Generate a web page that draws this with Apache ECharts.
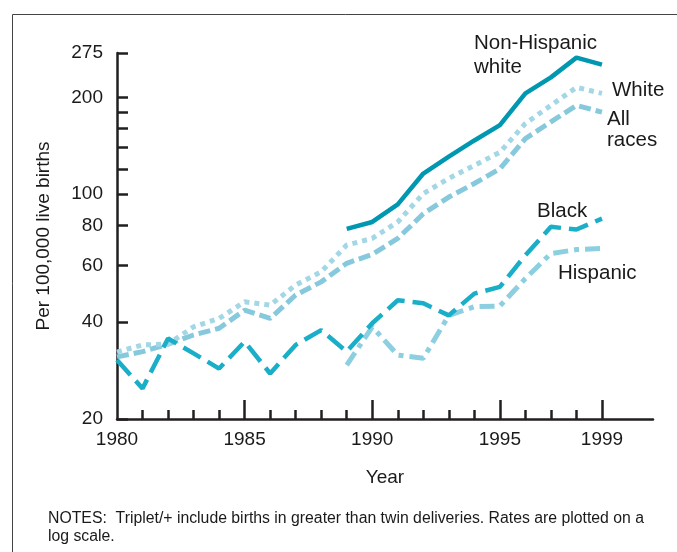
<!DOCTYPE html>
<html>
<head>
<meta charset="utf-8">
<script src="https://cdn.jsdelivr.net/npm/echarts@6/dist/echarts.min.js"></script>
<style>
html,body{margin:0;padding:0;background:#fff;}
#c{width:677px;height:552px;}
</style>
</head>
<body>
<div id="c"></div>
<script>
const years = [1980,1981,1982,1983,1984,1985,1986,1987,1988,1989,1990,1991,1992,1993,1994,1995,1996,1997,1998,1999];
const nonHispanicWhite = [null,null,null,null,null,null,null,null,null,78,82,93,116,131,147,164,206,231,266,253];
const white = [32.3,34.0,34.2,38.7,41.1,46.3,45.2,52.2,57.4,69.5,72.9,82,100.5,112,123,135,166,189,215,206];
const allRaces = [31.2,32.4,34.2,36.5,38.3,43.6,41.1,48.6,53.4,61,65,72.9,87,98,108,120,149,168,189,180];
const black = [30.5,24.9,35.6,32,28.7,34.8,27.7,34,37.8,32.4,39.7,46.8,45.8,42,49.1,51.5,64.6,79.2,77.7,84];
const hispanic = [null,null,null,null,null,null,null,null,null,29.4,38.7,31.6,30.9,42,44.7,44.9,54.7,65.4,67.3,67.8];
const yLabelValues = [20,40,60,80,100,200,275];
const yTickValues = [20,40,60,80,100,120,140,160,180,200,275];
const xLabelValues = [1980,1985,1990,1995,1999];
const xMajorTicks = [1985,1990,1995,1999];
const xMinorTicks = [1981,1982,1983,1984,1986,1987,1988,1989,1991,1992,1993,1994,1996,1997,1998];

const pairs = arr => years.map((y,i)=>[y,arr[i]]).filter(p=>p[1]!=null);
const axisColor = '#231f20';
const font = 'Liberation Sans, Arial, Helvetica, sans-serif';
const lab = (text, x, y) => ({type:'text', x:x, y:y, style:{text:text, font:'20.5px '+font, fill:'#1a1a1a', verticalAlign:'middle'}});

const chart = echarts.init(document.getElementById('c'), null, {renderer:'canvas'});
chart.setOption({
  animation:false,
  backgroundColor:'#fff',
  grid:{left:117, right:24, top:53, bottom:133, containLabel:false},
  xAxis:[{
    type:'value', min:1980, max:2001,
    axisLine:{show:true, lineStyle:{color:axisColor, width:2.5}},
    axisTick:{show:true, inside:true, length:9, lineStyle:{color:axisColor, width:2.5}, customValues:xMinorTicks},
    axisLabel:{show:false},
    splitLine:{show:false}
  },{
    type:'value', min:1980, max:2001, position:'bottom',
    axisLine:{show:false},
    axisTick:{show:true, inside:true, length:19, lineStyle:{color:axisColor, width:2.5}, customValues:xMajorTicks},
    axisLabel:{show:true, customValues:xLabelValues, formatter:v=>String(v), color:'#1a1a1a', fontSize:19, fontFamily:font, margin:11},
    splitLine:{show:false},
    name:'Year', nameLocation:'middle', nameGap:49,
    nameTextStyle:{color:'#1a1a1a', fontSize:19, fontFamily:font}
  }],
  yAxis:{
    type:'log', logBase:10, min:20, max:275,
    axisLine:{show:true, lineStyle:{color:axisColor, width:2.5}},
    axisTick:{show:true, inside:true, length:11, lineStyle:{color:axisColor, width:2.5}, customValues:yTickValues},
    axisLabel:{show:true, customValues:yLabelValues, formatter:v=>String(v), color:'#1a1a1a', fontSize:19, fontFamily:font, margin:14},
    splitLine:{show:false}, minorTick:{show:false},
    name:'Per 100,000 live births', nameLocation:'middle', nameGap:64, nameRotate:90,
    nameTextStyle:{color:'#1a1a1a', fontSize:19, fontFamily:font}
  },
  series:[
    {name:'All races', type:'line', xAxisIndex:0, data:pairs(allRaces), symbol:'none',
     lineStyle:{color:'#86c9dc', width:5, type:[12,5]}},
    {name:'White', type:'line', xAxisIndex:0, data:pairs(white), symbol:'none',
     lineStyle:{color:'#a4d7e5', width:5, type:[5,5]}},
    {name:'Hispanic', type:'line', xAxisIndex:0, data:pairs(hispanic), symbol:'none',
     lineStyle:{color:'#8ccfe0', width:5, type:[15,6,5,6]}},
    {name:'Black', type:'line', xAxisIndex:0, data:pairs(black), symbol:'none',
     lineStyle:{color:'#1aaec8', width:4.5, type:[20,8]}},
    {name:'Non-Hispanic white', type:'line', xAxisIndex:0, data:pairs(nonHispanicWhite), symbol:'none',
     lineStyle:{color:'#0097b0', width:4.5, type:'solid'}}
  ],
  graphic:[
    {type:'rect', shape:{x:12.5, y:14.5, width:700, height:600}, style:{fill:null, stroke:'#444', lineWidth:1}, silent:true, z:-10},
    lab('Non-Hispanic', 474, 43),
    lab('white', 474, 67),
    lab('White', 612, 90),
    lab('All', 607, 119),
    lab('races', 607, 140),
    lab('Black', 537, 211),
    lab('Hispanic', 558, 273),
    {type:'text', x:48, y:510, style:{text:'NOTES:  Triplet/+ include births in greater than twin deliveries. Rates are plotted on a\nlog scale.', font:'15.8px '+font, fill:'#1a1a1a', lineHeight:18}}
  ]
});
</script>
</body>
</html>
